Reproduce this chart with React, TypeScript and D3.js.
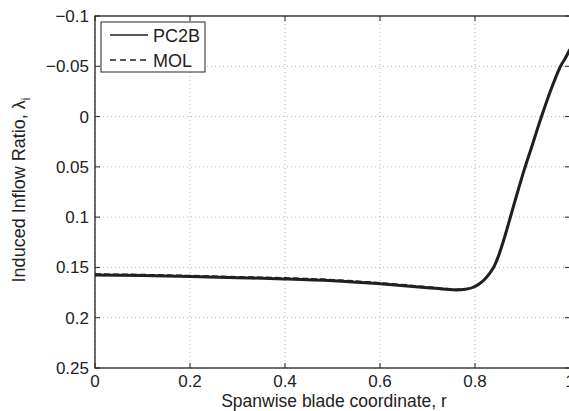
import React from "react";
import * as d3 from "d3";

const rValues = [0, 0.1, 0.2, 0.3, 0.4, 0.5, 0.6, 0.7, 0.74, 0.76, 0.78, 0.8, 0.81, 0.82, 0.83, 0.84, 0.85, 0.86, 0.87, 0.88, 0.89, 0.9, 0.92, 0.94, 0.96, 0.97, 0.98, 0.99, 1.0];
const pc2b = [0.1575, 0.158, 0.159, 0.1602, 0.1614, 0.1632, 0.1663, 0.1701, 0.1718, 0.1724, 0.1718, 0.1690, 0.1660, 0.1620, 0.1565, 0.1492, 0.1380, 0.1235, 0.1075, 0.0908, 0.0745, 0.0585, 0.0292, 0.0, -0.027, -0.039, -0.050, -0.058, -0.067];
const mol = [0.1568, 0.1573, 0.1583, 0.1595, 0.1606, 0.1624, 0.1655, 0.1694, 0.1712, 0.1719, 0.1715, 0.1688, 0.1659, 0.1619, 0.1564, 0.1491, 0.1379, 0.1234, 0.1074, 0.0907, 0.0744, 0.0584, 0.0291, -0.0001, -0.0271, -0.0391, -0.0501, -0.0581, -0.0671];

const xTicks = [0, 0.2, 0.4, 0.6, 0.8, 1];
const yTicks = [-0.1, -0.05, 0, 0.05, 0.1, 0.15, 0.2, 0.25];
const seriesNames = ["PC2B", "MOL"];

const W = 569;
const H = 411;
const L = 95, R = 570, T = 16, B = 368;
const FONT = "'Liberation Sans', Arial, Helvetica, sans-serif";

const fmt = (v: number) => {
  const s = String(Math.abs(v) < 1e-12 ? 0 : v);
  return s.replace("-", "\u2212");
};

export default function App() {
  const x = d3.scaleLinear().domain([0, 1]).range([L, R]);
  const y = d3.scaleLinear().domain([-0.1, 0.25]).range([T, B]);
  const line = d3
    .line<number>()
    .x((_, i) => x(rValues[i]))
    .y((d) => y(d))
    .curve(d3.curveMonotoneX);

  const tickLen = 5;
  return (
    <svg
      width={W}
      height={H}
      style={{ position: "absolute", left: 0, top: 0, background: "#fff" }}
      fontFamily={FONT}
    >
      <rect x={0} y={0} width={W} height={H} fill="#fff" />
      {/* grid */}
      {xTicks.map((t) => (
        <line key={"gx" + t} x1={x(t)} x2={x(t)} y1={T} y2={B} stroke="#b4b4b4" strokeWidth={1} strokeDasharray="1,3" />
      ))}
      {yTicks.map((t) => (
        <line key={"gy" + t} x1={L} x2={R} y1={y(t)} y2={y(t)} stroke="#b4b4b4" strokeWidth={1} strokeDasharray="1,3" />
      ))}
      {/* ticks */}
      {xTicks.map((t) => (
        <g key={"tx" + t}>
          <line x1={x(t)} x2={x(t)} y1={B} y2={B - tickLen} stroke="#222" strokeWidth={1} />
          <line x1={x(t)} x2={x(t)} y1={T} y2={T + tickLen} stroke="#222" strokeWidth={1} />
          <text x={x(t)} y={B + 19} fontSize={17} textAnchor="middle" fill="#222">
            {fmt(t)}
          </text>
        </g>
      ))}
      {yTicks.map((t) => (
        <g key={"ty" + t}>
          <line x1={L} x2={L + tickLen} y1={y(t)} y2={y(t)} stroke="#222" strokeWidth={1} />
          <line x1={R} x2={R - tickLen} y1={y(t)} y2={y(t)} stroke="#222" strokeWidth={1} />
          <text x={L - 6} y={y(t) + 6} fontSize={17} textAnchor="end" fill="#222">
            {fmt(t)}
          </text>
        </g>
      ))}
      {/* curves */}
      <path d={line(pc2b) || ""} fill="none" stroke="#231f20" strokeWidth={3} />
      <path d={line(mol) || ""} fill="none" stroke="#231f20" strokeWidth={2} strokeDasharray="6,3" />
      {/* axes box */}
      <rect x={L} y={T} width={R - L} height={B - T} fill="none" stroke="#222" strokeWidth={1.3} />
      {/* legend */}
      <rect x={101} y={22} width={104} height={50} fill="#fff" stroke="#222" strokeWidth={1} />
      <line x1={110} x2={148} y1={35} y2={35} stroke="#222" strokeWidth={1.5} />
      <text x={153} y={42} fontSize={18} fill="#222">{seriesNames[0]}</text>
      <line x1={110} x2={148} y1={60} y2={60} stroke="#222" strokeWidth={1.5} strokeDasharray="6,4" />
      <text x={153} y={67} fontSize={18} fill="#222">{seriesNames[1]}</text>
      {/* axis labels */}
      <text x={334} y={407} fontSize={17.5} textAnchor="middle" fill="#222">
        Spanwise blade coordinate, r
      </text>
      <text transform="translate(25,190) rotate(-90)" fontSize={18} textAnchor="middle" fill="#222">
        Induced Inflow Ratio,{" "}
        <tspan>λ</tspan>
        <tspan fontSize={12} dy={5}>i</tspan>
      </text>
    </svg>
  );
}
